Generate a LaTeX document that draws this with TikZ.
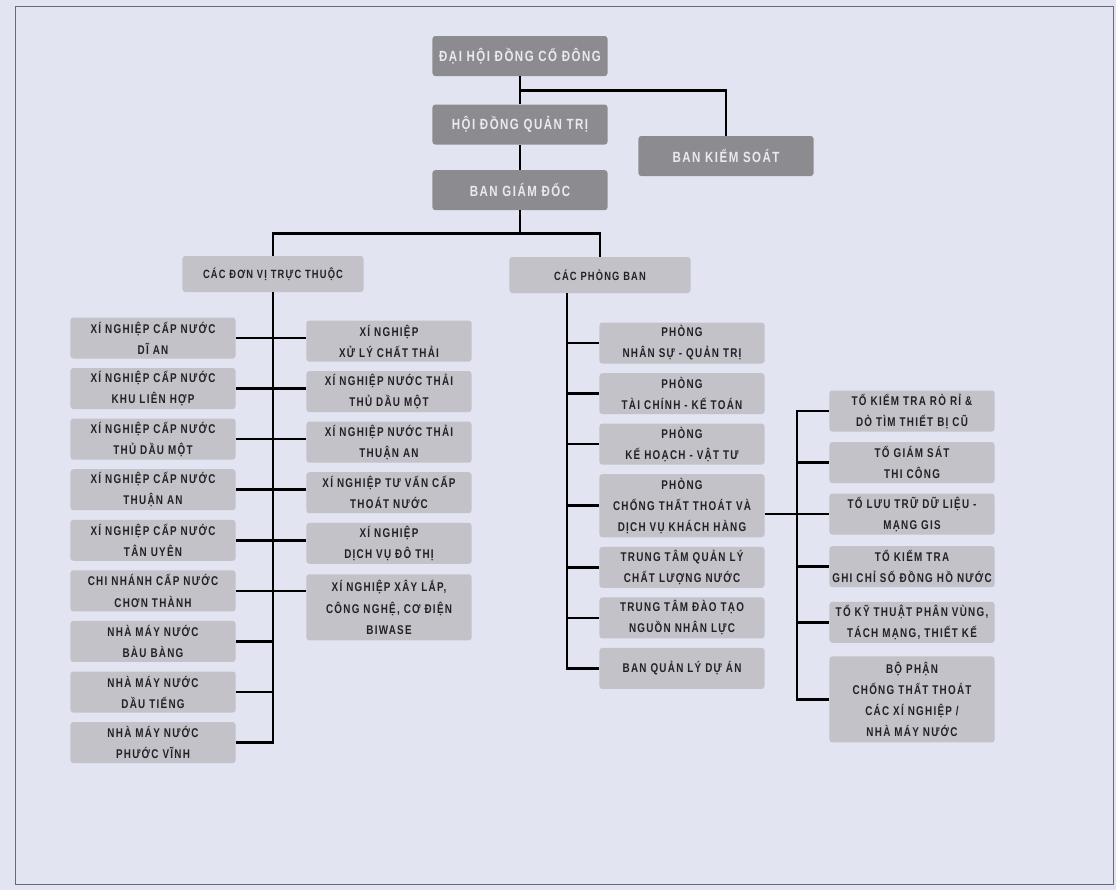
\documentclass[tikz,border=0pt]{standalone}
\usepackage{fontspec}
\newfontfamily\orgfont[FakeStretch=0.78,LetterSpace=10]{Liberation Sans}
\usetikzlibrary{%
	calc,%
	positioning,%
}
\definecolor{cpaper}{RGB}{226, 228, 242}
\definecolor{cframe}{RGB}{105, 105, 115}
\definecolor{cboxlight}{RGB}{194, 194, 200}
\definecolor{cboxdark}{RGB}{140, 140, 144}
\definecolor{ctextdark}{RGB}{34, 34, 38}
\definecolor{ctextlight}{RGB}{234, 234, 238}
\tikzset{
	conn/.style={%
			line width=1.8pt,%
			black},%
	headbox/.style={%
			rectangle,%
			rounded corners=2pt,%
			fill=cboxdark,%
			text=ctextlight,%
			minimum width=4.375cm,%
			minimum height=1cm,%
			font=\orgfont\bfseries\fontsize{10.5}{12}\selectfont},%
	unitbox/.style={%
			rectangle,%
			rounded corners=2pt,%
			fill=cboxlight,%
			text=ctextdark,%
			align=center,%
			inner xsep=1pt,%
			inner ysep=1pt,%
			minimum width=4.125cm,%
			minimum height=1.025cm,%
			font=\orgfont\bfseries\fontsize{9}{15}\selectfont},%
	groupbox/.style={%
			unitbox,%
			minimum width=4.525cm,%
			minimum height=0.9cm,%
			font=\orgfont\bfseries\fontsize{8.5}{12}\selectfont},%
}

\begin{document}
\begin{tikzpicture}[x=0.025cm, y=-0.025cm, node distance=0.225cm]%
	\fill[cpaper] (0,0) rectangle (1116,890);
	\draw[cframe, line width=0.6pt] (15,6) rectangle (1113,884);

	% top of the chart
	\node[headbox] (dh) at (520,56) {ĐẠI HỘI ĐỒNG CỔ ĐÔNG};
	\node[headbox] (hd) [below=0.7cm of dh] {HỘI ĐỒNG QUẢN TRỊ};
	\node[headbox] (bg) [below=0.625cm of hd] {BAN GIÁM ĐỐC};
	\node[headbox] (bk) at (726,156) {BAN KIỂM SOÁT};

	\node[groupbox] (dv) at (273,274) {CÁC ĐƠN VỊ TRỰC THUỘC};
	\node[groupbox] (pb) at (600,275) {CÁC PHÒNG BAN};

	% units, left column
	\node[unitbox] (xn1) at (153,338) {XÍ NGHIỆP CẤP NƯỚC\\DĨ AN};
	\node[unitbox] (xn2) [below=of xn1] {XÍ NGHIỆP CẤP NƯỚC\\KHU LIÊN HỢP};
	\node[unitbox] (xn3) [below=of xn2] {XÍ NGHIỆP CẤP NƯỚC\\THỦ DẦU MỘT};
	\node[unitbox] (xn4) [below=of xn3] {XÍ NGHIỆP CẤP NƯỚC\\THUẬN AN};
	\node[unitbox] (xn5) [below=of xn4] {XÍ NGHIỆP CẤP NƯỚC\\TÂN UYÊN};
	\node[unitbox] (xn6) [below=of xn5] {CHI NHÁNH CẤP NƯỚC\\CHƠN THÀNH};
	\node[unitbox] (xn7) [below=of xn6] {NHÀ MÁY NƯỚC\\BÀU BÀNG};
	\node[unitbox] (xn8) [below=of xn7] {NHÀ MÁY NƯỚC\\DẦU TIẾNG};
	\node[unitbox] (xn9) [below=of xn8] {NHÀ MÁY NƯỚC\\PHƯỚC VĨNH};

	% units, right column
	\node[unitbox] (xl1) at (389,341) {XÍ NGHIỆP\\XỬ LÝ CHẤT THẢI};
	\node[unitbox] (xl2) [below=of xl1] {XÍ NGHIỆP NƯỚC THẢI\\THỦ DẦU MỘT};
	\node[unitbox] (xl3) [below=of xl2] {XÍ NGHIỆP NƯỚC THẢI\\THUẬN AN};
	\node[unitbox] (xl4) [below=of xl3] {XÍ NGHIỆP TƯ VẤN CẤP\\THOÁT NƯỚC};
	\node[unitbox] (xl5) [below=of xl4] {XÍ NGHIỆP\\DỊCH VỤ ĐÔ THỊ};
	\node[unitbox, minimum height=1.65cm] (xl6) [below=0.25cm of xl5] {XÍ NGHIỆP XÂY LẮP,\\CÔNG NGHỆ, CƠ ĐIỆN\\BIWASE};

	% departments
	\node[unitbox] (pq1) at (682,343) {PHÒNG\\NHÂN SỰ - QUẢN TRỊ};
	\node[unitbox] (pq2) [below=of pq1] {PHÒNG\\TÀI CHÍNH - KẾ TOÁN};
	\node[unitbox] (pq3) [below=of pq2] {PHÒNG\\KẾ HOẠCH - VẬT TƯ};
	\node[unitbox, minimum height=1.575cm] (pq4) [below=of pq3] {PHÒNG\\CHỐNG THẤT THOÁT VÀ\\DỊCH VỤ KHÁCH HÀNG};
	\node[unitbox] (pq5) [below=of pq4] {TRUNG TÂM QUẢN LÝ\\CHẤT LƯỢNG NƯỚC};
	\node[unitbox] (pq6) [below=of pq5] {TRUNG TÂM ĐÀO TẠO\\NGUỒN NHÂN LỰC};
	\node[unitbox] (pq7) [below=of pq6] {BAN QUẢN LÝ DỰ ÁN};

	% teams under the anti-loss department
	\node[unitbox] (tk1) at (912,411) {TỔ KIỂM TRA RÒ RỈ \&\\DÒ TÌM THIẾT BỊ CŨ};
	\node[unitbox] (tk2) [below=0.25cm of tk1] {TỔ GIÁM SÁT\\THI CÔNG};
	\node[unitbox] (tk3) [below=0.25cm of tk2] {TỔ LƯU TRỮ DỮ LIỆU -\\MẠNG GIS};
	\node[unitbox] (tk4) [below=0.275cm of tk3] {TỔ KIỂM TRA\\GHI CHỈ SỐ ĐỒNG HỒ NƯỚC};
	\node[unitbox] (tk5) [below=0.35cm of tk4] {TỔ KỸ THUẬT PHÂN VÙNG,\\TÁCH MẠNG, THIẾT KẾ};
	\node[unitbox, minimum height=2.15cm] (tk6) [below=0.325cm of tk5] {BỘ PHẬN\\CHỐNG THẤT THOÁT\\CÁC XÍ NGHIỆP /\\NHÀ MÁY NƯỚC};

	% connectors
	\draw[conn] (dh) -- (hd);
	\draw[conn] (hd) -- (bg);
	\coordinate (dhfork) at ($(dh.south)!0.5!(hd.north)$);
	\draw[conn] (dhfork) -| (bk.north);

	\coordinate (bgfork) at ($(bg.south)+(0,23)$);
	\draw[conn] (bg.south) -- (bgfork);
	\draw[conn] (dv.north) |- (bgfork) -| (pb.north);

	\draw[conn] (dv.south) |- (xn9.east);
	\foreach \i in {1,...,6}
	\draw[conn] (xn\i.east) -- (xn\i.east -| xl\i.west);
	\foreach \i in {7,8}
	\draw[conn] (xn\i.east) -- (xn\i.east -| dv.south);

	\coordinate (pbx) at ($(pb.south)+(-33,0)$);
	\draw[conn] (pbx) |- (pq7.west);
	\foreach \i in {1,...,6}
	\draw[conn] (pbx |- pq\i.west) -- (pq\i.west);

	\coordinate (tkx) at ($(tk1.west)+(-32,0)$);
	\draw[conn] (tk1.west) -- (tkx) |- (tk6.west);
	\foreach \i in {2,...,5}
	\draw[conn] (tkx |- tk\i.west) -- (tk\i.west);
	\draw[conn] (pq4.east |- tk3.west) -- (tk3.west);
\end{tikzpicture}
\end{document}
